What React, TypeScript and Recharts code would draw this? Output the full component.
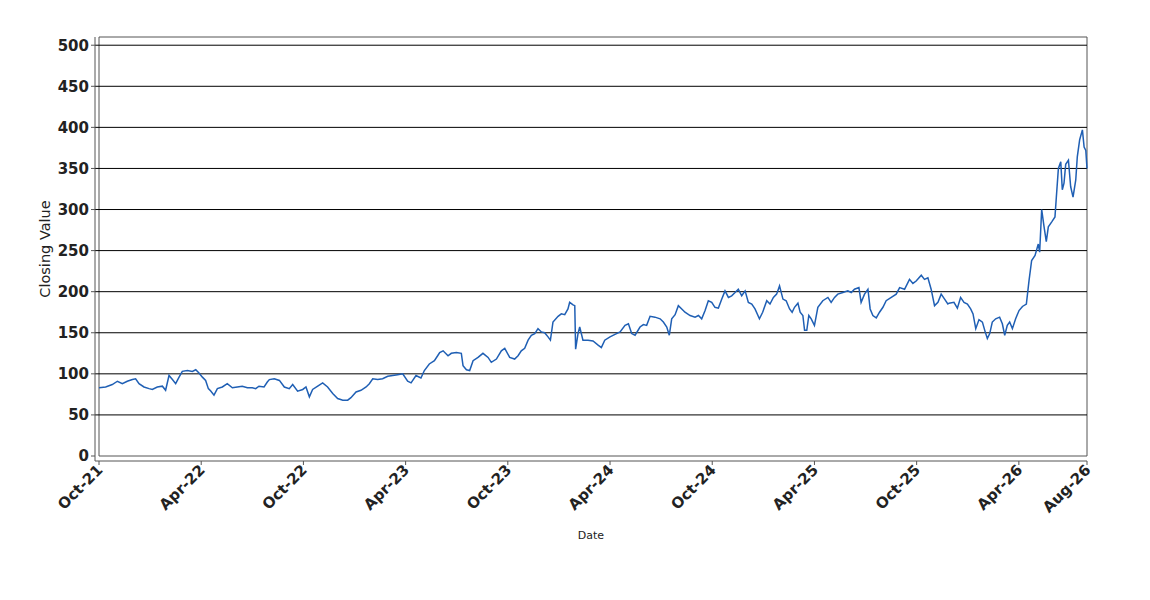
import React from 'react';
import {
  LineChart,
  Line,
  XAxis,
  YAxis,
  ReferenceLine,
  ReferenceArea,
} from 'recharts';

// x position in months since Oct-21
const monthPos: number[] = [
  0.0, 0.39, 0.78, 1.08, 1.37, 1.66, 1.96, 2.15, 2.35, 2.64, 2.94, 3.13, 3.42, 3.72, 3.91, 4.11, 4.31, 4.5, 4.7, 4.89,
  5.19, 5.48, 5.68, 5.87, 6.07, 6.26, 6.42, 6.56, 6.75, 6.95, 7.24, 7.53, 7.83, 8.12, 8.41, 8.71, 9.0, 9.2, 9.39, 9.69, 9.88,
  10.0, 10.29, 10.59, 10.88, 11.17, 11.37, 11.66, 11.96, 12.15, 12.35, 12.54, 12.84, 13.13, 13.42, 13.72, 14.01, 14.31,
  14.6, 14.79, 15.09, 15.38, 15.68, 15.87, 16.07, 16.36, 16.65, 16.95, 17.24, 17.53, 17.83, 18.12, 18.32, 18.61, 18.9,
  19.1, 19.39, 19.69, 19.88,
  20.0, 20.2, 20.49, 20.68, 20.98, 21.27, 21.37, 21.57, 21.76, 21.96, 22.25, 22.54, 22.84, 23.03, 23.33, 23.62, 23.82,
  24.11, 24.4, 24.6, 24.79, 24.99, 25.19, 25.38, 25.58, 25.77, 25.97, 26.16, 26.36, 26.5, 26.65, 26.95, 27.14, 27.34,
  27.53, 27.63, 27.83, 27.93, 27.98, 28.12, 28.22, 28.41, 28.71, 29.0, 29.3, 29.49, 29.69,
  30.0, 30.29, 30.59, 30.88, 31.08, 31.27, 31.47, 31.76, 31.96, 32.15, 32.35, 32.64, 32.94, 33.13, 33.33, 33.48, 33.62,
  33.82, 34.01, 34.21, 34.4, 34.7, 34.99, 35.19, 35.38, 35.58, 35.77, 35.97, 36.16, 36.36, 36.56, 36.75, 36.95, 37.14,
  37.34, 37.53, 37.73, 37.93, 38.12, 38.32, 38.51, 38.77, 38.96, 39.2, 39.39, 39.59, 39.78,
  39.95, 40.15, 40.34, 40.54, 40.69, 40.83, 41.03, 41.16, 41.32, 41.42, 41.55, 41.67, 41.81, 42.0, 42.2, 42.49, 42.79,
  42.98, 43.18, 43.37, 43.67, 43.96, 44.16, 44.35, 44.61, 44.74, 44.94, 45.14, 45.27, 45.43, 45.63, 45.82, 46.02, 46.21,
  46.51, 46.8, 47.0, 47.29, 47.58, 47.78, 47.97, 48.27, 48.46, 48.66, 48.85, 49.05, 49.25, 49.44, 49.64, 49.83,
  49.9, 50.19, 50.39, 50.58, 50.78, 50.98, 51.17, 51.31, 51.47, 51.66, 51.86, 52.01, 52.15, 52.29, 52.44, 52.64, 52.87,
  53.03, 53.17, 53.32, 53.46, 53.62, 53.81, 54.01, 54.21, 54.44, 54.6, 54.75, 54.95, 55.14, 55.22, 55.34, 55.48, 55.61,
  55.73, 55.93, 56.12, 56.2, 56.32, 56.46, 56.55, 56.65, 56.75, 56.91, 57.04, 57.18, 57.34, 57.43, 57.57, 57.73, 57.83,
  57.93, 58.0,
];

const closeValue: number[] = [
  83, 84, 87, 91, 88, 91, 93, 94, 88, 84, 82, 81, 84, 85, 80, 98, 93, 88, 96, 103,
  104, 103, 105, 101, 96, 92, 82, 79, 74, 82, 84, 88, 83, 84, 85, 83, 83, 82, 85, 84, 90,
  93, 94, 92, 84, 82, 87, 79, 81, 84, 72, 81, 85, 89, 84, 76, 70, 68,
  68, 71, 78, 80, 84, 88, 94, 93, 94, 97, 98, 99, 100, 91, 89, 98, 95,
  104, 112, 116, 122,
  126, 128, 122, 125, 126, 125, 110, 105, 104, 116, 120, 125, 120, 114, 118, 128, 131,
  120, 118, 122, 128, 131, 141, 147, 149, 155, 151, 150, 145, 141, 163, 170, 173, 172,
  179, 187, 184, 183, 130, 149, 157, 141, 141, 140, 135, 132, 141,
  145, 148, 151, 159, 161, 149, 147, 157, 160, 159, 170, 169, 167, 163, 157, 147, 167,
  172, 183, 179, 175, 171, 169, 171, 167, 177, 189, 187, 181, 180, 191, 201, 193, 195,
  199, 203, 195, 201, 187, 185, 179, 167, 175, 189, 185, 193, 197,
  207, 191, 189, 179, 175, 181, 186, 175, 171, 153, 153, 171, 167, 159, 181, 189, 193,
  187, 193, 197, 199, 201, 199, 203, 205, 187, 197, 203, 179, 171, 168, 175, 181, 189,
  193, 197, 205, 203, 215, 210, 213, 220, 215, 217, 203, 183, 187, 197, 191, 185,
  186, 187, 180, 193, 187, 185, 179, 173, 155, 166, 163, 152, 143, 149, 163, 167, 169,
  161, 147, 159, 163, 155, 167, 177, 182, 185, 214, 238, 244, 258, 248, 300, 279, 261,
  279, 285, 291, 315, 350, 358, 324, 332, 355, 360, 328, 315, 336, 364, 385, 397, 376,
  372, 350,
];

const xTicks: number[] = [0, 6, 12, 18, 24, 30, 36, 42, 48, 54, 58];
const xTickLabels: string[] = [
  'Oct-21', 'Apr-22', 'Oct-22', 'Apr-23', 'Oct-23', 'Apr-24', 'Oct-24', 'Apr-25', 'Oct-25', 'Apr-26', 'Aug-26',
];
const yTicks: number[] = [0, 50, 100, 150, 200, 250, 300, 350, 400, 450, 500];
const gridValues: number[] = [50, 100, 150, 200, 250, 300, 350, 400, 450, 500];

const data = monthPos.map((m, i) => ({ m, close: closeValue[i] }));

const FONT = '"DejaVu Sans", sans-serif';
const LINE_BLUE = '#1f5fb4';
const AXIS_GREY = '#555';

function DateTick(props: any) {
  const { x, y, payload } = props;
  const idx = xTicks.indexOf(payload.value);
  return (
    <g transform={`translate(${x},${y})`}>
      <text
        x={0}
        y={0}
        dy={6}
        dx={0.5}
        textAnchor="end"
        transform="rotate(-45)"
        fontFamily={FONT}
        fontSize={15}
        fontWeight="bold"
        fill="#222"
      >
        {xTickLabels[idx]}
      </text>
    </g>
  );
}

export default function App() {
  return (
    <div style={{ position: 'absolute', left: 0, top: 0, width: 1150, height: 600, background: '#fff' }}>
      <LineChart
        width={1150}
        height={600}
        data={data}
        margin={{ top: 37, right: 63, left: 35, bottom: 59 }}
      >
        <XAxis
          dataKey="m"
          type="number"
          domain={[0, 58]}
          ticks={xTicks}
          interval={0}
          padding={{ left: 4, right: 0 }}
          height={80}
          tick={<DateTick />}
          tickSize={4}
          tickLine={{ stroke: AXIS_GREY }}
          axisLine={{ stroke: AXIS_GREY }}
          label={{
            value: 'Date',
            position: 'insideBottom',
            offset: 2,
            fontFamily: FONT,
            fontSize: 11,
            fill: '#222',
          }}
        />
        <YAxis
          type="number"
          domain={[0, 510]}
          ticks={yTicks}
          interval={0}
          allowDataOverflow
          padding={{ top: 0, bottom: 5 }}
          width={60}
          tickSize={4}
          tickMargin={2}
          tick={{ fontFamily: FONT, fontSize: 15, fontWeight: 'bold', fill: '#222' }}
          tickLine={{ stroke: AXIS_GREY }}
          axisLine={{ stroke: AXIS_GREY }}
          label={{
            value: 'Closing Value',
            angle: -90,
            position: 'insideLeft',
            offset: 10,
            fontFamily: FONT,
            fontSize: 14.5,
            fill: '#222',
            style: { textAnchor: 'middle' },
          }}
        />
        {gridValues.map(v => (
          <ReferenceLine key={v} y={v} stroke="#000" strokeWidth={1} ifOverflow="extendDomain" />
        ))}
        <Line
          type="linear"
          dataKey="close"
          stroke={LINE_BLUE}
          strokeWidth={1.5}
          dot={false}
          isAnimationActive={false}
        />
        <ReferenceArea x1={0} x2={58} y1={0} y2={510} fill="none" stroke={AXIS_GREY} strokeWidth={1} />
      </LineChart>
    </div>
  );
}
